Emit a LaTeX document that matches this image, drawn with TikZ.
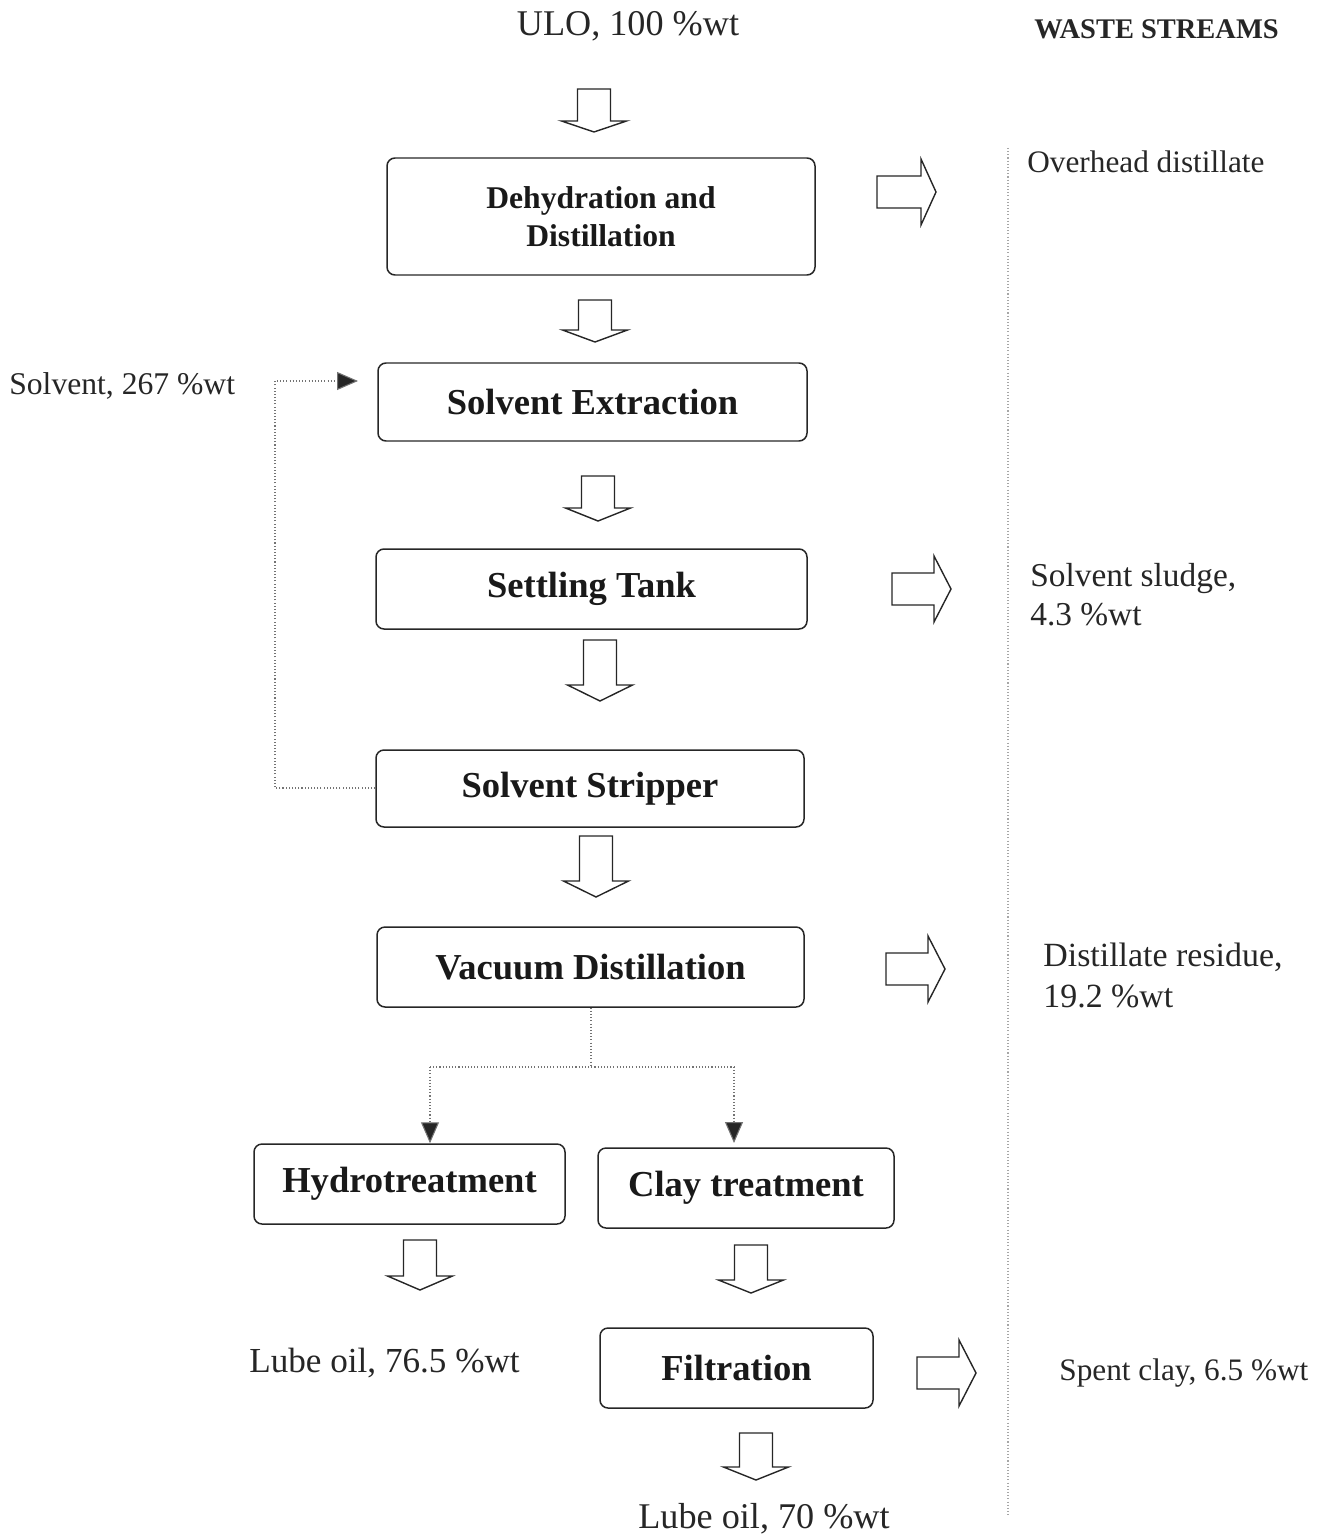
\documentclass[tikz,border=0pt]{standalone}
\usepackage{fontspec}
\setmainfont{Liberation Serif}
\usetikzlibrary{arrows.meta}

% hollow block arrow pointing down: centre x, top y, shoulder y, tip y
\newcommand\downblock[4]{%
  \draw[blockarrow] (#1-16.5,#2) -- (#1+16.5,#2) -- (#1+16.5,#3) -- (#1+32.5,#3)
    -- (#1,#4) -- (#1-32.5,#3) -- (#1-16.5,#3) -- cycle;}
% hollow block arrow pointing right: centre y, left x, shoulder x, tip x
\newcommand\rightblock[4]{%
  \draw[blockarrow] (#2,#1-16) -- (#3,#1-16) -- (#3,#1-33) -- (#4,#1)
    -- (#3,#1+33) -- (#3,#1+16) -- (#2,#1+16) -- cycle;}

\begin{document}
\begin{tikzpicture}[x=0.02cm,y=-0.02cm,
  stage/.style={draw=black!85, line width=0.85pt, rounded corners=0.16cm,
    inner sep=0pt, align=center, text=black!90,
    font=\fontsize{20.8}{25}\selectfont\bfseries},
  blockarrow/.style={draw=black!85, line width=0.8pt, line join=miter, fill=white},
  flowline/.style={draw=black!55, line width=0.6pt, dash pattern=on 0.6pt off 1.2pt},
  feedtip/.style={-{Triangle[length=0.42cm,width=0.36cm,fill=black!85,sep=0pt]}},
  note/.style={inner sep=0pt, text=black!85, font=\fontsize{18}{22}\selectfont},
  bignote/.style={inner sep=0pt, text=black!85, font=\fontsize{20.6}{25}\selectfont}]
\useasboundingbox (0,0) rectangle (1336,1534);

% process stages
\node[stage, minimum width=428*0.02cm, minimum height=117*0.02cm,
      font=\fontsize{18}{21.6}\selectfont\bfseries] (dehyd) at (601,216.5)
      {Dehydration and\\Distillation};
\node[stage, minimum width=429*0.02cm, minimum height=78*0.02cm] (extr) at (592.5,402) {Solvent Extraction};
\node[stage, minimum width=431*0.02cm, minimum height=80*0.02cm] (settle) at (591.5,589) {Settling Tank};
\node[stage, minimum width=428*0.02cm, minimum height=77*0.02cm] (strip) at (590,788.5) {Solvent Stripper};
\node[stage, minimum width=427*0.02cm, minimum height=80*0.02cm] (vac) at (590.5,967) {Vacuum Distillation};
\node[stage, minimum width=311*0.02cm, minimum height=80*0.02cm] (hydro) at (409.5,1184) {Hydrotreatment};
\node[stage, minimum width=296*0.02cm, minimum height=80*0.02cm] (clay) at (746,1188) {Clay treatment};
\node[stage, minimum width=273*0.02cm, minimum height=80*0.02cm] (filt) at (736.5,1368) {Filtration};

% feed, products and waste streams
\node[bignote, anchor=base] (feed) at (628,36) {ULO, 100 \%wt};
\node[inner sep=0pt, anchor=base west, text=black!85,
      font=\fontsize{16.2}{19}\selectfont\bfseries] (waste) at (1034,39) {WASTE STREAMS};
\node[note, anchor=base west, font=\fontsize{17.8}{22}\selectfont] (overhead) at (1027,173) {Overhead distillate};
\node[note, anchor=base west, align=left, font=\fontsize{19}{22.2}\selectfont]
      (sludge) at (1030,625) {Solvent sludge,\\4.3 \%wt};
\node[note, anchor=base west, align=left, font=\fontsize{19.3}{22.8}\selectfont]
      (residue) at (1043,1007) {Distillate residue,\\19.2 \%wt};
\node[note, anchor=base west, font=\fontsize{17.8}{22}\selectfont] (spent) at (1059,1380) {Spent clay, 6.5 \%wt};
\node[bignote, anchor=base west, font=\fontsize{20}{24}\selectfont] (lube1) at (249,1372) {Lube oil, 76.5 \%wt};
\node[bignote, anchor=base west] (lube2) at (638,1528) {Lube oil, 70 \%wt};
\node[note, anchor=base west, font=\fontsize{18}{22}\selectfont] (solv) at (9,394) {Solvent, 267 \%wt};

% separator between the process and the waste streams
\coordinate (septop) at (1008,148);
\coordinate (sepbot) at (1008,1517);
\draw[flowline, draw=black!35] (septop) -- (sepbot);

% main flow arrows
\downblock{594}{89}{121}{132}
\downblock{595}{300}{330}{342}
\downblock{598}{476}{508}{521}
\downblock{600}{640}{685}{701}
\downblock{596}{836}{881}{897}
\downblock{420}{1240}{1276}{1290}
\downblock{751}{1245}{1280}{1293}
\downblock{756}{1433}{1467}{1480}

% waste stream arrows
\rightblock{192}{877}{921}{936}
\rightblock{589}{892}{934}{951}
\rightblock{969}{886}{928}{945}
\rightblock{1373}{917}{959}{976}

% solvent recycle loop
\coordinate (loopbot) at (275,788);
\coordinate (looptop) at (275,381);
\coordinate (feedin) at (358,381);
\draw[flowline, feedtip] (strip.west |- loopbot) -- (loopbot) -- (looptop) -- (feedin);

% split after vacuum distillation
\coordinate (split) at (591,1067);
\coordinate (splitl) at (430,1067);
\coordinate (splitr) at (734,1067);
\draw[flowline] (vac.south -| split) -- (split);
\draw[flowline] (splitl) -- (splitr);
\draw[flowline, feedtip] (splitl) -- (hydro.north -| splitl);
\draw[flowline, feedtip] (splitr) -- (734,1143);
\end{tikzpicture}
\end{document}
